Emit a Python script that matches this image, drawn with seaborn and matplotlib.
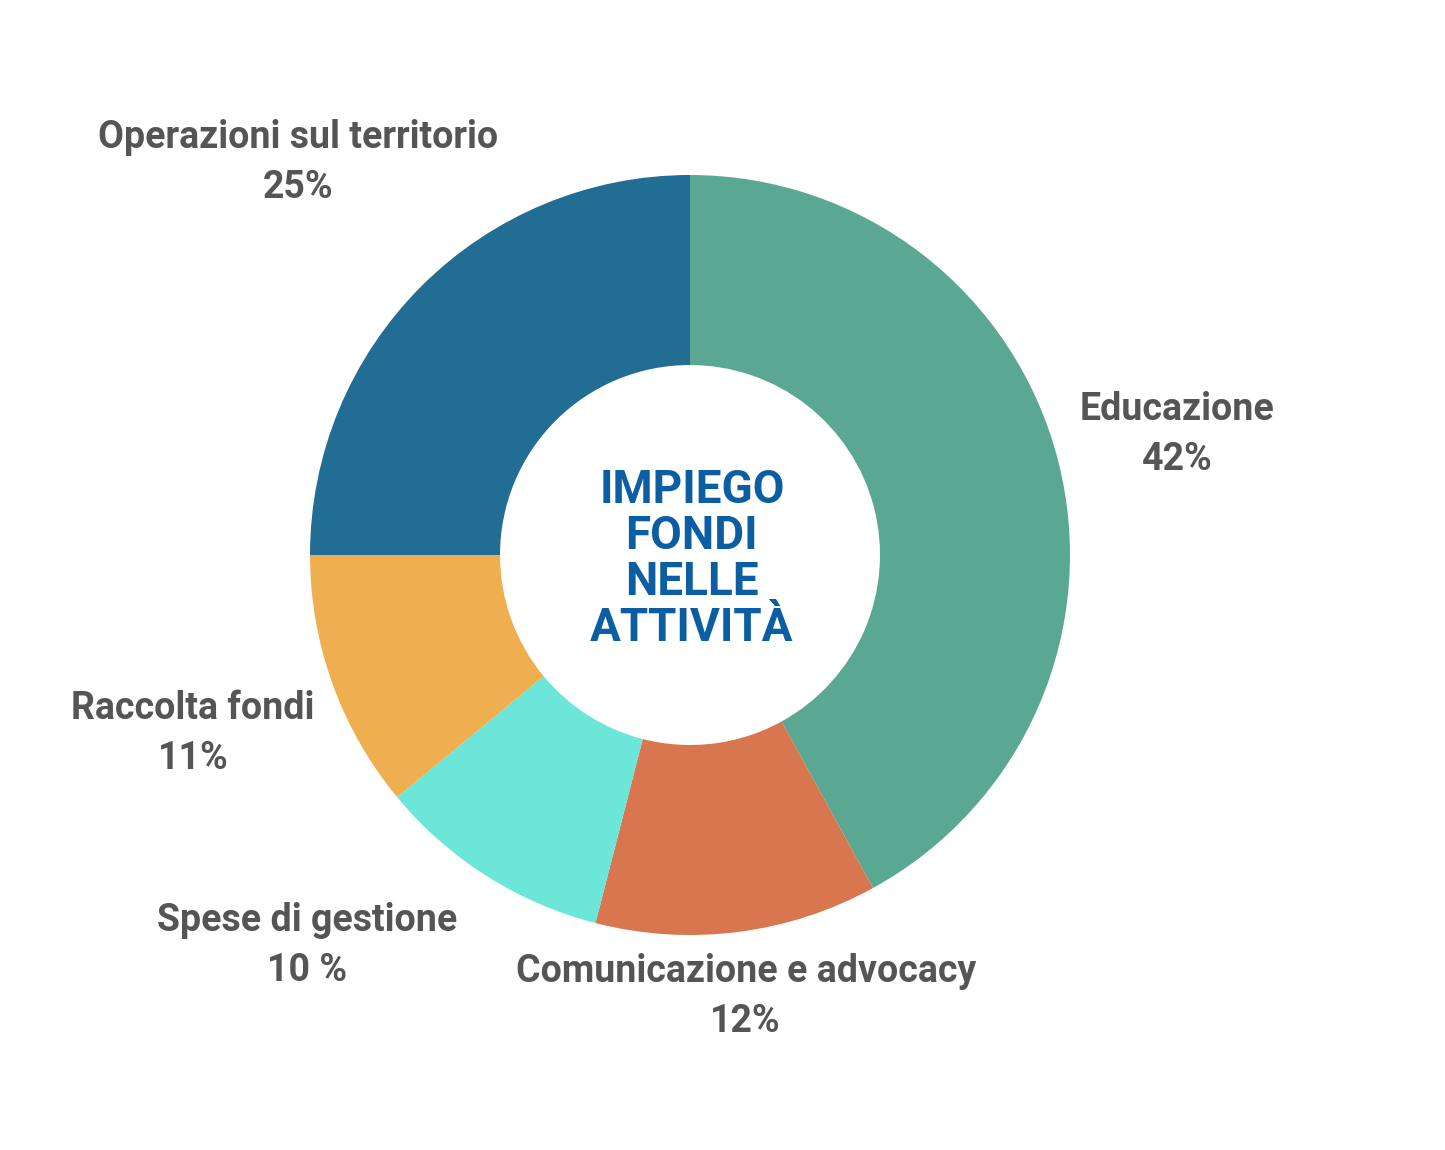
import matplotlib
matplotlib.use("Agg")
import matplotlib.pyplot as plt
import seaborn as sns
import numpy as np

# Data
categories = ["Educazione", "Comunicazione e advocacy", "Spese di gestione",
              "Raccolta fondi", "Operazioni sul territorio"]
values = [42, 12, 10, 11, 25]
pct_labels = ["42%", "12%", "10 %", "11%", "25%"]
colors = ["#5aa891", "#d7764f", "#6ce6d9", "#efae4f", "#216d93"]
center_title = "IMPIEGO\nFONDI\nNELLE\nATTIVITÀ"

sns.set_theme(style="white")
plt.rcParams["font.family"] = ["Roboto", "DejaVu Sans"]

W, H, DPI = 1445, 1150, 100
fig = plt.figure(figsize=(W / DPI, H / DPI), dpi=DPI)
ax = fig.add_axes([0, 0, 1, 1])

ax.pie(values, colors=colors, startangle=90, counterclock=False,
       radius=1, wedgeprops=dict(width=0.5, linewidth=0))

# donut centre (pixels) and outer radius
cx, cy, R = 690, 555, 380
ax.set_aspect("auto")
ax.set_xlim(-cx / R, (W - cx) / R)
ax.set_ylim(-(H - cy) / R, cy / R)
ax.axis("off")

# label placement: radius factor and angle tweak per slice
label_r = [1.32, 1.17, 1.44, 1.39, 1.46]
label_da = [-0.5, 0, -12, 0, 0]
cum = np.cumsum([0] + values[:-1])
for i, (cat, pct) in enumerate(zip(categories, pct_labels)):
    mid = 90 - (cum[i] + values[i] / 2) / sum(values) * 360 + label_da[i]
    x = label_r[i] * np.cos(np.radians(mid))
    y = label_r[i] * np.sin(np.radians(mid))
    ax.text(x, y, cat + "\n" + pct, ha="center", va="center",
            fontsize=27, fontweight="bold", color="#555555", linespacing=1.45)

ax.text(0.005, -0.01, center_title, ha="center", va="center", fontsize=33,
        fontweight="bold", color="#0b5ea1", linespacing=1.06)

fig.savefig("out.png", dpi=DPI, facecolor="white")
